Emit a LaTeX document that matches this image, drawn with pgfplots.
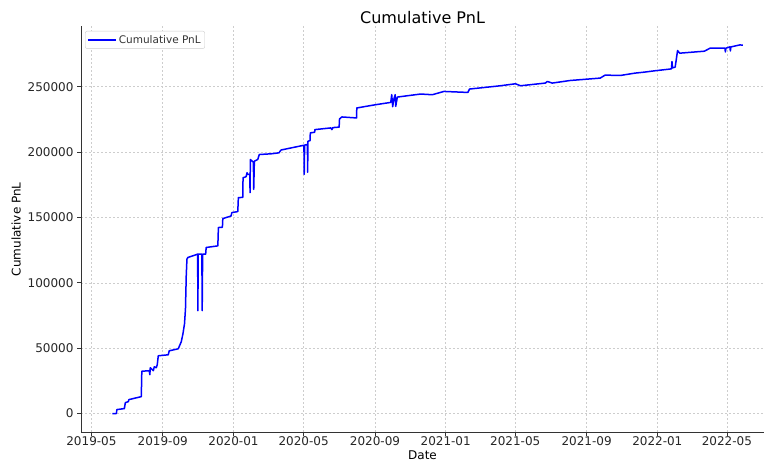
\documentclass[border=0pt]{standalone}
\usepackage{fontspec}
\setmainfont{DejaVu Sans}
\usepackage{pgfplots}
\pgfplotsset{compat=1.18}
\usepackage{pgfplotstable}
\definecolor{gridc}{RGB}{205,205,205}
\definecolor{legc}{RGB}{204,204,204}
% day = days since 2019-05-01, pnl = cumulative PnL
\pgfplotstableread{
day pnl
36.1 0
43.0 0
43.9 3049
56.8 3811
58.5 8385
63.7 9146
64.5 10671
86.0 12957
86.9 32394
99.8 32775
100.7 29726
101.5 35061
106.7 32775
108.4 35823
111.8 35061
113.5 37348
115.3 44208
132.5 44970
134.2 48019
149.7 49543
154.9 54878
157.8 60976
160.5 68598
162.2 80031
163.5 105184
164.7 118141
166.4 119436
183.2 121952
183.6 78735
184.1 121952
190.5 121952
191.0 78735
191.8 121952
197.0 121952
197.9 127059
218.0 128278
219.0 142303
225.9 142532
226.6 149163
240.9 151145
242.1 153736
252.4 154499
253.4 165170
261.0 165398
261.5 180413
266.7 181176
268.4 184225
269.6 182928
273.1 182928
273.6 168979
274.1 194361
279.3 192303
279.9 171495
281.0 193065
286.8 194361
289.6 198172
309.7 198706
323.5 199468
326.9 201603
366.5 205261
367.0 182928
367.7 205414
372.5 205795
372.9 184682
373.4 208310
377.0 208800
377.5 214712
385.0 215200
385.5 217227
412.9 218523
414.7 217227
416.4 218751
427.2 219132
427.9 225382
431.9 226906
457.2 226144
457.7 233766
473.2 234986
490.4 236282
516.2 238035
517.9 243904
519.6 234758
521.3 240093
523.9 243904
524.8 234986
527.4 241617
528.2 242151
567.8 244437
587.9 243904
607.9 246419
649.2 245657
652.1 248248
705.4 250764
731.3 252288
739.9 250764
782.9 252822
786.3 254041
794.9 252822
825.9 254803
877.5 256633
886.1 258919
911.9 258615
937.7 260444
954.0 261207
971.2 262197
997.0 263493
1000.4 263722
1001.3 269286
1002.1 264484
1006.8 265018
1010.9 277669
1014.6 275689
1057.3 277213
1066.8 279499
1092.6 279499
1093.4 276679
1094.3 279499
1101.2 280490
1102.0 277442
1102.9 280490
1118.4 282014
1123.6 281786
}\pnltable
\begin{document}
\begin{tikzpicture}
\path[use as bounding box] (0,0) rectangle (764bp,462bp);
\begin{axis}[
  at={(81bp,30bp)}, anchor=south west,
  scale only axis,
  width=683bp, height=405.5bp,
  xmin=-18, xmax=1160,
  ymin=-14100, ymax=296100,
  axis x line*=bottom, axis y line*=left,
  axis line style={black!80, line width=0.8bp, -},
  xtick={0,123,245,366,489,611,731,854,976,1096},
  xticklabels={2019-05,2019-09,2020-01,2020-05,2020-09,2021-01,2021-05,2021-09,2022-01,2022-05},
  ytick={0,50000,100000,150000,200000,250000},
  yticklabels={0,50000,100000,150000,200000,250000},
  scaled y ticks=false,
  tick align=outside,
  tick style={black!80, line width=0.8bp},
  major tick length=4bp,
  ticklabel style={font=\fontsize{12bp}{14bp}\selectfont, text=black!85},
  xticklabel style={yshift=3bp},
  grid=major,
  major grid style={gridc, dash pattern=on 2bp off 2bp, line width=0.6bp},
  title={Cumulative PnL},
  title style={font=\fontsize{16bp}{19bp}\selectfont, yshift=-7bp},
  xlabel={Date},
  ylabel={Cumulative PnL},
  label style={font=\fontsize{12bp}{14bp}\selectfont},
  xlabel style={yshift=2bp},
  legend style={at={(0.006,0.989)}, anchor=north west,
    font=\fontsize{10.5bp}{12bp}\selectfont, text=black!80,
    draw=legc, rounded corners=2bp, inner sep=2bp},
  legend cell align=left,
  legend image code/.code={\draw[#1] (0bp,0bp) -- (28bp,0bp);},
]
\addplot[blue, line width=1.5bp, line join=round] table[x=day, y=pnl] {\pnltable};
\addlegendentry{Cumulative PnL}
\end{axis}
\end{tikzpicture}
\end{document}
